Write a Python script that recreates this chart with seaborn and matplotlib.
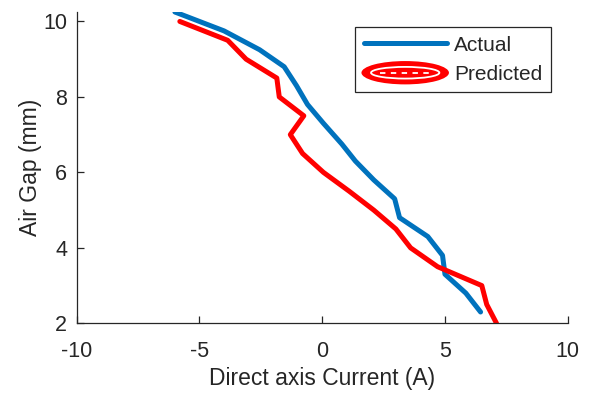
import matplotlib
matplotlib.use("Agg")
import matplotlib.pyplot as plt
import seaborn as sns
import pandas as pd
from matplotlib.patches import Ellipse
from matplotlib.lines import Line2D
from matplotlib.legend_handler import HandlerBase

# Data
actual_current = [-6.0, -4.0, -2.55, -1.55, -1.05, -0.6, 0.05, 0.8, 1.35, 2.1, 2.95, 3.15, 4.3, 4.9, 5.0, 5.85, 6.45]
actual_gap = [10.25, 9.75, 9.25, 8.8, 8.3, 7.8, 7.3, 6.75, 6.3, 5.8, 5.3, 4.8, 4.3, 3.8, 3.3, 2.8, 2.3]
pred_current = [-5.8, -3.85, -3.1, -1.85, -1.75, -0.75, -1.3, -0.8, 0.05, 1.1, 2.1, 3.0, 3.6, 4.7, 6.5, 6.7, 7.1]
pred_gap = [10.0, 9.5, 9.0, 8.5, 8.0, 7.5, 7.0, 6.5, 6.0, 5.5, 5.0, 4.5, 4.0, 3.5, 3.0, 2.5, 2.0]
series_names = ["Actual", "Predicted"]
x_ticks = [-10, -5, 0, 5, 10]
y_ticks = [2, 4, 6, 8, 10]

sns.set_theme(style="ticks")
plt.rcParams["font.family"] = ["Liberation Sans", "DejaVu Sans"]
plt.rcParams["axes.unicode_minus"] = False

df = pd.concat([
    pd.DataFrame({"current": actual_current, "gap": actual_gap, "series": series_names[0]}),
    pd.DataFrame({"current": pred_current, "gap": pred_gap, "series": series_names[1]}),
], ignore_index=True)

fig = plt.figure(figsize=(5.92, 3.94), dpi=100)
ax = fig.add_axes([0.1296, 0.1794, 0.8294, 0.7901])

palette = {"Actual": "#0072BD", "Predicted": "#FF0000"}
sns.lineplot(data=df, x="current", y="gap", hue="series", palette=palette,
             sort=False, estimator=None, linewidth=3.6, ax=ax, legend=False)

ax.set_xlim(-10, 10)
ax.set_ylim(2, 10.25)
ax.set_xticks(x_ticks)
ax.set_yticks(y_ticks)
ax.set_xlabel("Direct axis Current (A)", fontsize=16.5, color="#262626", labelpad=3)
ax.set_ylabel("Air Gap (mm)", fontsize=16.5, color="#262626", labelpad=1)
ax.tick_params(direction="in", length=5, width=0.9, colors="#262626",
               labelsize=15.5)
ax.tick_params(axis="x", pad=13)
ax.tick_params(axis="y", pad=7)
for s in ["top", "right"]:
    ax.spines[s].set_visible(False)
for s in ["left", "bottom"]:
    ax.spines[s].set_color("#262626")
    ax.spines[s].set_linewidth(0.9)


class EllipseHandler(HandlerBase):
    def create_artists(self, legend, orig_handle, xdescent, ydescent,
                       width, height, fontsize, trans):
        cx = width / 2 - xdescent
        cy = height / 2 - ydescent
        outer = Ellipse((cx, cy), width * 1.05, height * 1.6, facecolor="#FF0000",
                        edgecolor="none", transform=trans)
        ring = Ellipse((cx, cy), width * 0.82, height * 0.8, facecolor="none",
                       edgecolor="white", linewidth=1.3, transform=trans)
        mid = Line2D([cx - width * 0.3, cx + width * 0.3], [cy, cy], color="white",
                     linewidth=1.3, linestyle=(0, (3, 3)), transform=trans)
        return [outer, ring, mid]


h_actual = Line2D([], [], color="#0072BD", linewidth=3.6)
h_pred = Line2D([], [], color="#FF0000", linewidth=3.6)
leg = ax.legend([h_actual, h_pred], series_names, loc="upper right",
                bbox_to_anchor=(0.9654, 0.951), borderaxespad=0,
                fontsize=15, frameon=True, fancybox=False, framealpha=1,
                edgecolor="#262626", handlelength=4.0, handletextpad=0.35,
                borderpad=0.4, labelspacing=0.5,
                handler_map={h_pred: EllipseHandler()})
leg.get_frame().set_linewidth(0.9)

fig.savefig("out.png", dpi=100)
